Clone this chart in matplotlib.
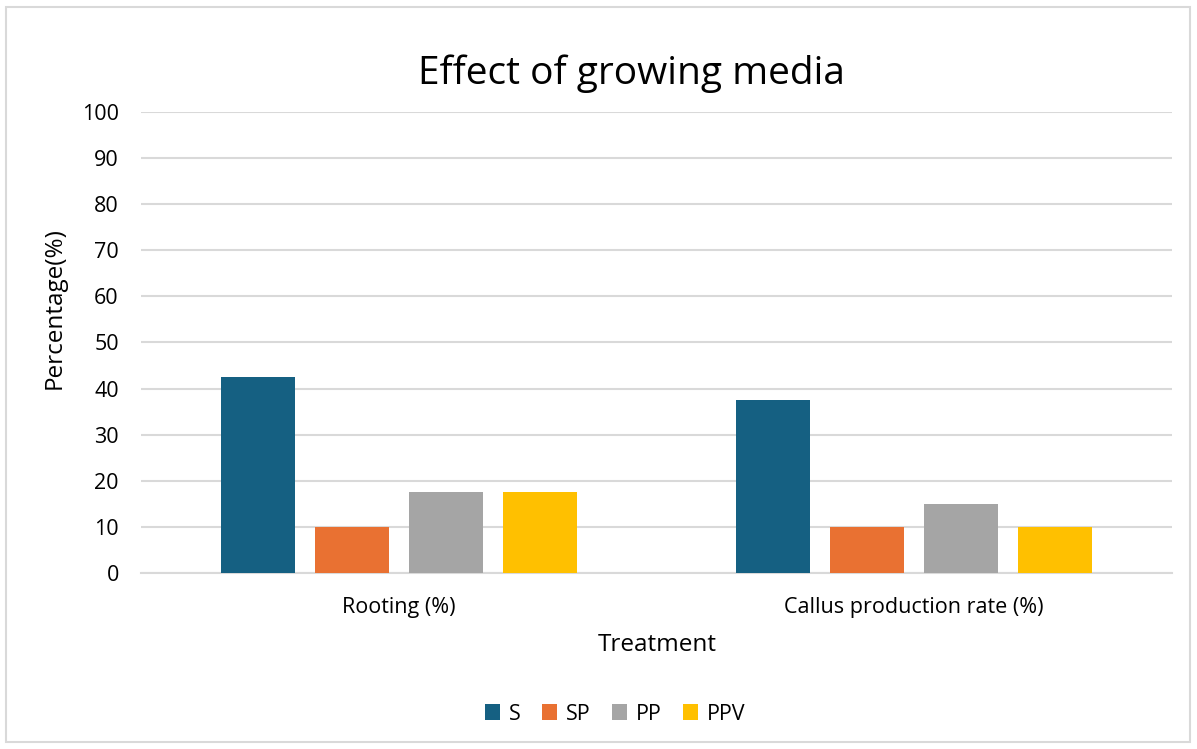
import matplotlib
matplotlib.use("Agg")
import matplotlib.pyplot as plt
import numpy as np
from matplotlib.patches import Rectangle

categories = ["Rooting (%)", "Callus production rate (%)"]
series_names = ["S", "SP", "PP", "PPV"]
S = [42.5, 37.5]
SP = [10, 10]
PP = [17.5, 15]
PPV = [17.5, 10]
colors = ["#156082", "#E97132", "#A5A5A5", "#FFC000"]

plt.rcParams['font.family'] = ['Open Sans', 'DejaVu Sans']

fig = plt.figure(figsize=(11.97, 7.49), dpi=100)
fig.patches.append(Rectangle((6/1197, 7/749), 1 - 13/1197, 1 - 14/749, transform=fig.transFigure,
                             fill=False, edgecolor="#D9D9D9", linewidth=1.5))
ax = fig.add_axes([141/1197, 1 - 573/749, (1172 - 141)/1197, (573 - 112)/749])

x = np.arange(len(categories))
width = 0.1435
step = 0.1823
for i, (name, vals) in enumerate(zip(series_names, [S, SP, PP, PPV])):
    ax.bar(x + (i - 1.5) * step, vals, width, color=colors[i], label=name, zorder=3)

ax.set_xlim(-0.5, 1.5)
ax.set_ylim(0, 100)
ax.set_yticks(range(0, 101, 10))
ax.grid(axis="y", color="#D9D9D9", linewidth=1.5, zorder=0)
for s in ["top", "right", "left"]:
    ax.spines[s].set_visible(False)
ax.spines["bottom"].set_color("#D9D9D9")
ax.spines["bottom"].set_linewidth(1.5)
ax.tick_params(axis="both", length=0, labelsize=15.5, colors="#000000")
ax.tick_params(axis="y", pad=16)
ax.tick_params(axis="x", pad=17)
ax.set_xticks(x)
ax.set_xticklabels(categories)
ax.set_xlabel("Treatment", fontsize=17.5, va="center")
ax.xaxis.set_label_coords((657 - 141) / 1031, (573 - 645) / 461)
ax.set_ylabel("Percentage(%)", fontsize=17.5, va="center")
ax.yaxis.set_label_coords((55 - 141) / 1031, (573 - 308) / 461)
fig.text(631/1197, 1 - 74/749, "Effect of growing media", fontsize=28, ha="center", va="center")
fig.legend(loc="center", bbox_to_anchor=(615/1197, 1 - 714/749), ncol=4, frameon=False,
           fontsize=15.5, handlelength=0.7, handleheight=0.7, columnspacing=1.0, handletextpad=0.4)

fig.savefig("out.png", dpi=100)
